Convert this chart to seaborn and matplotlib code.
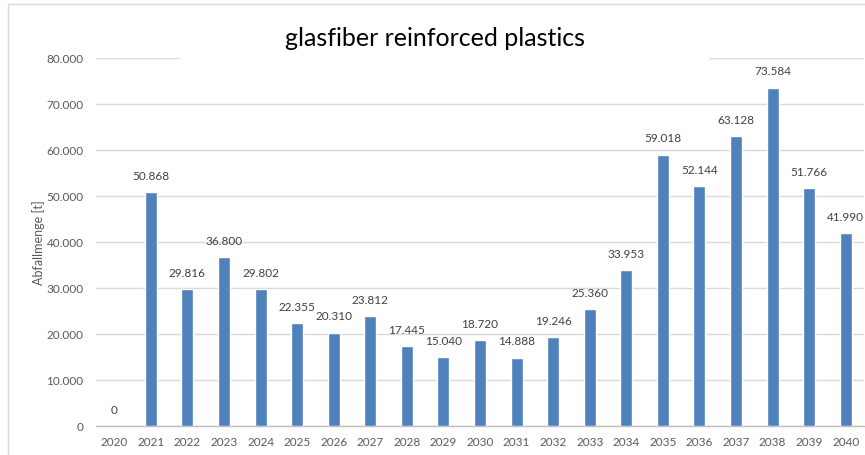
import matplotlib
matplotlib.use("Agg")
import matplotlib.pyplot as plt
from matplotlib.patches import Rectangle
import seaborn as sns
import pandas as pd

years = [str(y) for y in range(2020, 2041)]
waste_t = [0, 50868, 29816, 36800, 29802, 22355, 20310, 23812, 17445, 15040,
           18720, 14888, 19246, 25360, 33953, 59018, 52144, 63128, 73584, 51766, 41990]
y_ticks = [0, 10000, 20000, 30000, 40000, 50000, 60000, 70000, 80000]
title = "glasfiber reinforced plastics"
y_label = "Abfallmenge [t]"

sns.set_theme(style="white")
plt.rcParams["font.family"] = ["Lato", "DejaVu Sans"]


def de_thousands(v):
    return f"{int(v):,}".replace(",", ".")


df = pd.DataFrame({"year": years, "waste": waste_t})

fig = plt.figure(figsize=(8.65, 4.56), dpi=100)
ax = fig.add_axes([96 / 865, 1 - 427 / 456, 768 / 865, (427 - 59) / 456])

sns.barplot(data=df, x="year", y="waste", color="#4F81BD", saturation=1,
            width=0.33, ax=ax, zorder=3)

ax.set_ylim(0, 80000)
ax.set_yticks(y_ticks)
ax.set_yticklabels([de_thousands(v) for v in y_ticks])
ax.set_xlim(-0.5, len(years) - 0.5)
ax.grid(axis="y", color="#D9D9D9", linewidth=1, zorder=0)
ax.set_axisbelow(True)
for side in ["top", "right", "left"]:
    ax.spines[side].set_visible(False)
ax.spines["bottom"].set_color("#BFBFBF")
ax.spines["bottom"].set_linewidth(1)
ax.tick_params(axis="both", length=0, labelsize=8.5, colors="#595959")
ax.tick_params(axis="y", pad=9)
ax.tick_params(axis="x", pad=7)
ax.set_xlabel("")
ax.set_ylabel(y_label, fontsize=9, color="#595959", labelpad=1)

ax.bar_label(ax.containers[0], labels=[de_thousands(v) for v in waste_t],
             padding=8, fontsize=8.5, color="#404040")

# chart area border
fig.patches.append(Rectangle((8 / 865, -0.1), 1.2, 1 - 5 / 456 + 0.1,
                             transform=fig.transFigure, fill=False,
                             edgecolor="#D9D9D9", linewidth=1, zorder=0))
# title box covering the top gridline
fig.patches.append(Rectangle((180 / 865, 1 - 66 / 456), 530 / 865, 50 / 456,
                             transform=fig.transFigure, facecolor="white",
                             edgecolor="none", zorder=5))
fig.text(435 / 865, 1 - 38 / 456, title, ha="center", va="center",
         fontsize=18, color="#000000", zorder=6)

fig.savefig("out.png", dpi=100)
